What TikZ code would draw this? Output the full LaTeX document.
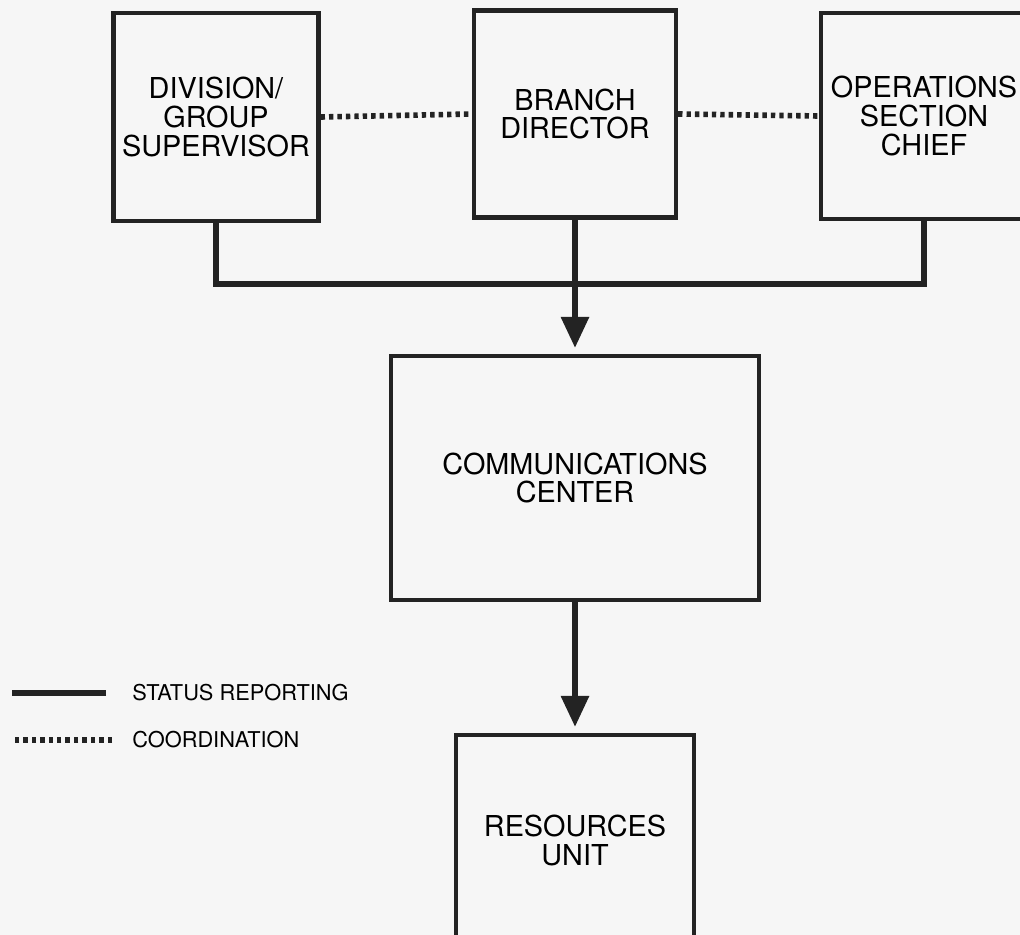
\documentclass[tikz,border=0pt]{standalone}
\usepackage{fontspec}
\setmainfont{TeX Gyre Heros}
\usetikzlibrary{arrows.meta}
\definecolor{paper}{RGB}{246,246,246}
\definecolor{ink}{RGB}{35,35,35}

\tikzset{
 unitbox/.style={draw=ink, line width=2.4pt, fill=paper, align=center, inner sep=0pt,
   font=\fontsize{16.4}{16.5}\selectfont},
 status/.style={draw=ink, line width=3.4pt},
 coordline/.style={draw=ink, line width=3.2pt, dash pattern=on 2.5pt off 2.3pt},
 tip/.style={-{Triangle[width=0.54cm,length=0.62cm]}, shorten >=0.12cm},
 legtext/.style={anchor=west, inner sep=0pt, font=\fontsize{12.4}{14}\selectfont},
}

\begin{document}
\begin{tikzpicture}[x=0.02cm, y=-0.02cm]
\fill[paper] (0,0) rectangle (1020,935);
\useasboundingbox (0,0) rectangle (1020,935);

\node[unitbox, minimum width=4.1cm, minimum height=4.16cm] (div) at (216,117) {DIVISION/\\GROUP\\SUPERVISOR};
\node[unitbox, minimum width=4.04cm, minimum height=4.14cm] (branch) at (575,114) {BRANCH\\DIRECTOR};
\node[unitbox, minimum width=4.12cm, minimum height=4.12cm] (ops) at (924,116) {OPERATIONS\\SECTION\\CHIEF};
\node[unitbox, minimum width=7.36cm, minimum height=4.88cm] (comm) at (575,478) {COMMUNICATIONS\\CENTER};
\node[unitbox, minimum width=4.76cm, minimum height=4.2cm] (res) at (575,840) {RESOURCES\\UNIT};

\draw[coordline] (div.east) -- (branch.west);
\draw[coordline] (branch.east) -- (ops.west);

\coordinate (bus) at (575,284);
\draw[status] (div.south) |- (bus) -| (ops.south);
\draw[status, tip] (branch.south) -- (comm.north);
\draw[status, tip] (comm.south) -- (res.north);

% legend
\node[legtext] (lstat) at (132,693) {STATUS REPORTING};
\node[legtext] (lcoord) at (132,740) {COORDINATION};
\draw[status, line width=3.8pt] ([xshift=-0.52cm]lstat.west) -- ([xshift=-2.4cm]lstat.west);
\draw[coordline] ([xshift=-0.4cm]lcoord.west) -- ([xshift=-2.4cm]lcoord.west);
\end{tikzpicture}
\end{document}
